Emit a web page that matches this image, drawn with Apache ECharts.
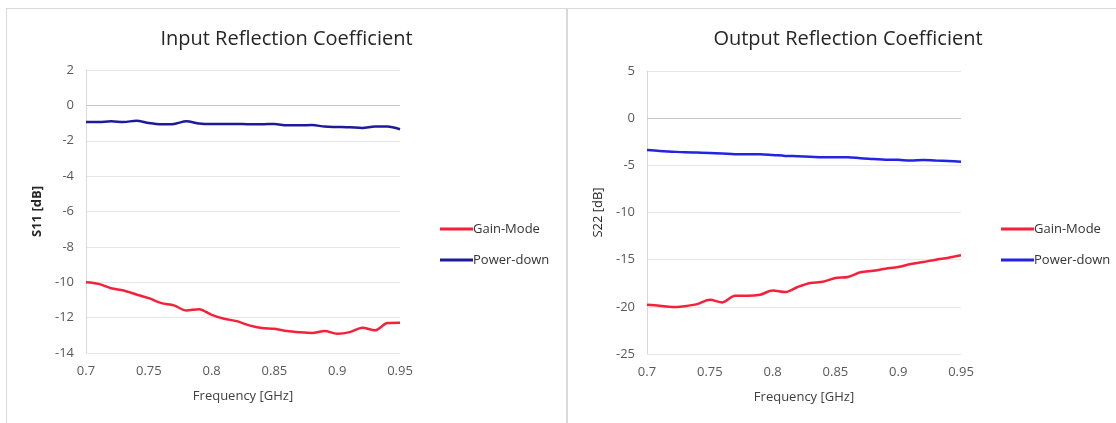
<!DOCTYPE html>
<html>
<head>
<meta charset="utf-8">
<script src="https://cdn.jsdelivr.net/npm/echarts@6/dist/echarts.min.js"></script>
<style>
    html, body { margin: 0; padding: 0; background: #fff; overflow: hidden; }
    body { width: 1116px; height: 423px; position: relative; }
    .panel {
        position: absolute;
        top: 8px;
        height: 420px;
        border: 1px solid #d9d9d9;
        background: #fff;
    }
    #input-chart { left: 6px; width: 559px; }
    #output-chart { left: 567px; width: 560px; }
</style>
</head>
<body>
<div id="input-chart" class="panel"></div>
<div id="output-chart" class="panel"></div>
<script>
// frequency points [GHz]
const frequencies = [
    0.70, 0.71, 0.72, 0.73, 0.74, 0.75, 0.76, 0.77, 0.78, 0.79,
    0.80, 0.81, 0.82, 0.83, 0.84, 0.85, 0.86, 0.87, 0.88, 0.89,
    0.90, 0.91, 0.92, 0.93, 0.94, 0.95
];

// S11 [dB]
const s11GainMode = [
    -10.00, -10.09, -10.34, -10.47, -10.69, -10.90, -11.18, -11.31, -11.60, -11.52,
    -11.84, -12.06, -12.20, -12.44, -12.59, -12.63, -12.76, -12.83, -12.87, -12.76,
    -12.91, -12.82, -12.57, -12.72, -12.31, -12.29
];
const s11PowerDown = [
    -0.94, -0.94, -0.90, -0.94, -0.87, -1.00, -1.07, -1.05, -0.90, -1.02,
    -1.05, -1.05, -1.05, -1.07, -1.07, -1.05, -1.13, -1.13, -1.11, -1.20,
    -1.22, -1.24, -1.28, -1.20, -1.20, -1.35
];

// S22 [dB]
const s22GainMode = [
    -19.79, -19.89, -20.03, -19.93, -19.71, -19.26, -19.53, -18.83, -18.83, -18.72,
    -18.26, -18.44, -17.90, -17.48, -17.34, -16.95, -16.84, -16.34, -16.17, -15.96,
    -15.78, -15.46, -15.24, -15.00, -14.79, -14.54
];
const s22PowerDown = [
    -3.38, -3.48, -3.55, -3.62, -3.65, -3.68, -3.74, -3.82, -3.83, -3.82,
    -3.90, -4.00, -4.03, -4.08, -4.15, -4.15, -4.13, -4.25, -4.32, -4.40,
    -4.42, -4.50, -4.43, -4.50, -4.55, -4.62
];

const xTicks = { min: 0.7, max: 0.95, interval: 0.05 };
const s11Ticks = { min: -14, max: 2, interval: 2 };
const s22Ticks = { min: -25, max: 5, interval: 5 };

const FONT = '"Open Sans", "Liberation Sans", sans-serif';
const RED = '#f5213a';

function pairs(ys) {
    return frequencies.map((f, i) => [f, ys[i]]);
}

function drawPanel(dom_id, title, yName, yTicks, gainData, downData, downColor, gridTop) {
    const myChart = echarts.init(document.getElementById(dom_id));
    const option = {
        animation: false,
        textStyle: { fontFamily: FONT },
        title: {
            text: title,
            left: 'center',
            top: 15,
            textStyle: { fontFamily: FONT, fontSize: 20, fontWeight: 'normal', color: '#262626' }
        },
        legend: {
            orient: 'vertical',
            left: 428,
            top: 208,
            icon: 'rect',
            itemWidth: 33,
            itemHeight: 3,
            itemGap: 17,
            textStyle: { fontFamily: FONT, fontSize: 13, color: '#333', lineHeight: 14, padding: [0, 0, 0, -5] },
            data: [
                { name: 'Gain-Mode', itemStyle: { color: RED } },
                { name: 'Power-down', itemStyle: { color: downColor } }
            ]
        },
        grid: { left: 79, top: gridTop, width: 314, height: 283, containLabel: false },
        xAxis: {
            type: 'value',
            min: xTicks.min,
            max: xTicks.max,
            interval: xTicks.interval,
            name: 'Frequency [GHz]',
            nameLocation: 'middle',
            nameGap: 37,
            nameTextStyle: { fontFamily: FONT, fontSize: 13, color: '#404040' },
            axisLine: { show: false },
            axisTick: { show: false },
            splitLine: { show: false },
            axisLabel: {
                margin: 12,
                fontFamily: FONT, fontSize: 13, color: '#595959',
                formatter: v => String(+v.toFixed(2))
            }
        },
        yAxis: {
            type: 'value',
            min: yTicks.min,
            max: yTicks.max,
            interval: yTicks.interval,
            name: yName,
            nameLocation: 'middle',
            nameGap: 30,
            nameTextStyle: { fontFamily: FONT, fontSize: 13, color: '#262626', fontWeight: dom_id === 'input-chart' ? 'bold' : 'normal' },
            axisLine: { show: true, lineStyle: { color: '#d9d9d9', width: 1 } },
            axisTick: { show: false },
            splitLine: { show: true, lineStyle: { color: '#e6e6e6', width: 1 } },
            axisLabel: { margin: 12, fontFamily: FONT, fontSize: 13, color: '#595959' }
        },
        series: [
            {
                name: 'Gain-Mode',
                type: 'line',
                data: pairs(gainData),
                symbol: 'none',
                smooth: 0.3,
                lineStyle: { color: RED, width: 2.5 },
                itemStyle: { color: RED },
                markLine: {
                    silent: true,
                    symbol: 'none',
                    label: { show: false },
                    lineStyle: { color: '#c8c8c8', type: 'solid', width: 1.2 },
                    data: [{ yAxis: 0 }]
                }
            },
            {
                name: 'Power-down',
                type: 'line',
                data: pairs(downData),
                symbol: 'none',
                smooth: 0.3,
                lineStyle: { color: downColor, width: 2.5 },
                itemStyle: { color: downColor }
            }
        ]
    };
    myChart.setOption(option);
}

drawPanel('input-chart', 'Input Reflection Coefficient', 'S11 [dB]', s11Ticks,
    s11GainMode, s11PowerDown, '#1f1a9a', 61);
drawPanel('output-chart', 'Output Reflection Coefficient', 'S22 [dB]', s22Ticks,
    s22GainMode, s22PowerDown, '#2323e6', 62);
</script>
</body>
</html>
